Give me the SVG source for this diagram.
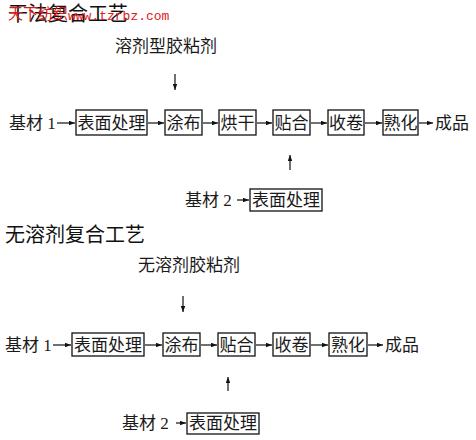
<svg xmlns="http://www.w3.org/2000/svg" width="476" height="440" viewBox="0 0 476 440">
<style>
  .t { font-family: "Liberation Serif", "Noto Sans CJK SC", serif; font-size: 17px; fill: #1a1a1a; }
  .c { text-anchor: middle; }
  .h { font-family: "Noto Sans CJK SC", "Liberation Sans", sans-serif; fill: #111; }
  .wm { fill: #e01818; }
  .box { fill: #fff; stroke: #111; stroke-width: 1.3; }
  .ln { stroke: #111; stroke-width: 1.2; fill: none; marker-end: url(#ah); }
</style>
<defs>
  <marker id="ah" viewBox="0 0 8 6" refX="8" refY="3" markerWidth="6" markerHeight="4.5" markerUnits="userSpaceOnUse" orient="auto">
    <path d="M0,0 L8,3 L0,6 z" fill="#111"/>
  </marker>
</defs>
<rect width="476" height="440" fill="#fff"/>

<!-- titles -->
<text class="h" x="8" y="21" font-size="20">干法复合工艺</text>
<text class="wm" x="8" y="19" font-family="Noto Sans CJK SC, sans-serif" font-size="15">天下纺织</text>
<text class="wm" x="68" y="20" font-family="Liberation Mono, monospace" font-size="13">www.tzrbz.com</text>
<text class="t" x="115" y="52">溶剂型胶粘剂</text>

<text class="h" x="5" y="242" font-size="20">无溶剂复合工艺</text>
<text class="t" x="138" y="271">无溶剂胶粘剂</text>

<!-- section 1 nodes -->
<g id="s1-base1"><text class="t" x="9" y="129">基材 1</text></g>
<g id="s1-surface"><rect class="box" x="76" y="110" width="71" height="25"/><text class="t c" x="111.5" y="129">表面处理</text></g>
<g id="s1-coat"><rect class="box" x="165" y="110" width="37" height="25"/><text class="t c" x="183.5" y="129">涂布</text></g>
<g id="s1-dry"><rect class="box" x="219" y="110" width="37" height="25"/><text class="t c" x="237.5" y="129">烘干</text></g>
<g id="s1-laminate"><rect class="box" x="273" y="110" width="37" height="25"/><text class="t c" x="291.5" y="129">贴合</text></g>
<g id="s1-wind"><rect class="box" x="328" y="110" width="36" height="25"/><text class="t c" x="346" y="129">收卷</text></g>
<g id="s1-cure"><rect class="box" x="383" y="110" width="35" height="25"/><text class="t c" x="400.5" y="129">熟化</text></g>
<g id="s1-product"><text class="t" x="435" y="129">成品</text></g>
<g id="s1-base2"><text class="t" x="185" y="206">基材 2</text></g>
<g id="s1-surface2"><rect class="box" x="250" y="189" width="72" height="22"/><text class="t c" x="286" y="206">表面处理</text></g>

<!-- section 2 nodes -->
<g id="s2-base1"><text class="t" x="5" y="351">基材 1</text></g>
<g id="s2-surface"><rect class="box" x="72" y="333" width="72" height="23"/><text class="t c" x="108" y="351">表面处理</text></g>
<g id="s2-coat"><rect class="box" x="163" y="333" width="37" height="23"/><text class="t c" x="181.5" y="351">涂布</text></g>
<g id="s2-laminate"><rect class="box" x="218" y="333" width="37" height="23"/><text class="t c" x="236.5" y="351">贴合</text></g>
<g id="s2-wind"><rect class="box" x="273" y="333" width="37" height="23"/><text class="t c" x="291.5" y="351">收卷</text></g>
<g id="s2-cure"><rect class="box" x="329" y="333" width="38" height="23"/><text class="t c" x="348" y="351">熟化</text></g>
<g id="s2-product"><text class="t" x="385" y="351">成品</text></g>
<g id="s2-base2"><text class="t" x="122" y="429">基材 2</text></g>
<g id="s2-surface2"><rect class="box" x="187" y="413" width="72" height="21"/><text class="t c" x="223" y="429">表面处理</text></g>

<!-- connectors -->
<g id="connectors">
  <line class="ln" x1="175" y1="74" x2="175" y2="90"/>
  <line class="ln" x1="57" y1="123" x2="75" y2="123"/>
  <line class="ln" x1="148" y1="123" x2="164" y2="123"/>
  <line class="ln" x1="203" y1="123" x2="218" y2="123"/>
  <line class="ln" x1="257" y1="123" x2="272" y2="123"/>
  <line class="ln" x1="311" y1="123" x2="327" y2="123"/>
  <line class="ln" x1="365" y1="123" x2="382" y2="123"/>
  <line class="ln" x1="419" y1="123" x2="433" y2="123"/>
  <line class="ln" x1="290" y1="170" x2="290" y2="155"/>
  <line class="ln" x1="237" y1="200" x2="249" y2="200"/>

  <line class="ln" x1="183" y1="296" x2="183" y2="312"/>
  <line class="ln" x1="53" y1="345" x2="71" y2="345"/>
  <line class="ln" x1="145" y1="345" x2="162" y2="345"/>
  <line class="ln" x1="201" y1="345" x2="217" y2="345"/>
  <line class="ln" x1="256" y1="345" x2="272" y2="345"/>
  <line class="ln" x1="311" y1="345" x2="328" y2="345"/>
  <line class="ln" x1="368" y1="345" x2="383" y2="345"/>
  <line class="ln" x1="228" y1="391" x2="228" y2="377"/>
  <line class="ln" x1="176" y1="423" x2="186" y2="423"/>
</g>
</svg>
